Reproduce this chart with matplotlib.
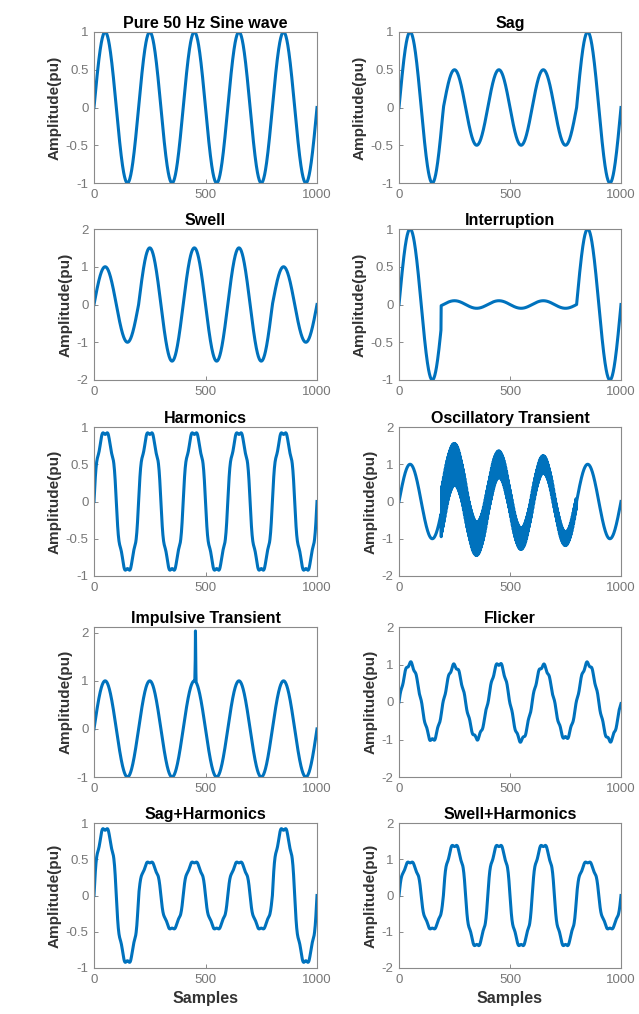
import numpy as np
import matplotlib
matplotlib.use("Agg")
import matplotlib.pyplot as plt

plt.rcParams['font.family'] = ['Liberation Sans', 'DejaVu Sans']

# ---- signal parameters ----
n_samples = 1000
cycle_len = 200                      # 5 cycles of 50 Hz in 1000 samples

titles = ["Pure 50 Hz Sine wave", "Sag", "Swell", "Interruption", "Harmonics",
          "Oscillatory Transient", "Impulsive Transient", "Flicker",
          "Sag+Harmonics", "Swell+Harmonics"]
y_limits = [(-1, 1), (-1, 1), (-2, 2), (-1, 1), (-1, 1),
            (-2, 2), (-1, 2.12), (-2, 2), (-1, 1), (-2, 2)]
y_ticks = [[-1, -0.5, 0, 0.5, 1], [-1, -0.5, 0, 0.5, 1], [-2, -1, 0, 1, 2],
           [-1, -0.5, 0, 0.5, 1], [-1, -0.5, 0, 0.5, 1], [-2, -1, 0, 1, 2],
           [-1, 0, 1, 2], [-2, -1, 0, 1, 2], [-1, -0.5, 0, 0.5, 1], [-2, -1, 0, 1, 2]]
x_ticks = [0, 500, 1000]

# disturbance windows (start, end sample) and levels
sag_window = (200, 800)
sag_level = 0.5
swell_window = (200, 800)
swell_level = 1.5
interrupt_window = (190, 800)
interrupt_level = 0.05

harmonic_orders = [1, 3, 5, 7]
harmonic_amps = [1.0, 0.10, 0.05, 0.05]

osc_window = (190, 800)
osc_amp = 0.9
osc_decay = 450        # samples
osc_period = 4         # samples

impulse_pos = [453, 454, 455, 456, 457]
impulse_add = [0.25, 0.45, 1.05, 0.5, 0.2]

flicker_ripple = 0.05
flicker_ripple_period = 24
flicker_mod = 0.04
flicker_mod_period = 400

# ---- build the waveforms ----
n = np.arange(n_samples + 1)
w = 2 * np.pi * n / cycle_len
sine = np.sin(w)
harm = sum(a * np.sin(k * w) for k, a in zip(harmonic_orders, harmonic_amps))


def window_env(win, level):
    env = np.ones_like(w)
    env[(n >= win[0]) & (n < win[1])] = level
    return env


sag = window_env(sag_window, sag_level) * sine
swell = window_env(swell_window, swell_level) * sine
interruption = window_env(interrupt_window, interrupt_level) * sine

osc_mask = (n >= osc_window[0]) & (n < osc_window[1])
osc = sine.copy()
osc[osc_mask] += (osc_amp * np.exp(-(n[osc_mask] - osc_window[0]) / osc_decay)
                  * np.sin(2 * np.pi * (n[osc_mask] + 0.5) / osc_period))

impulsive = sine.copy()
impulsive[impulse_pos] += impulse_add

flicker = ((1 + flicker_mod * np.sin(2 * np.pi * n / flicker_mod_period)) * sine
           + flicker_ripple * np.sin(2 * np.pi * n / flicker_ripple_period))

sag_harm = window_env(sag_window, sag_level) * harm
swell_harm = window_env(swell_window, swell_level) * harm

signals = [sine, sag, swell, interruption, harm, osc, impulsive, flicker,
           sag_harm, swell_harm]

# ---- layout (pixel boxes of the axes) ----
W, H = 639, 1014
col_x = [(94, 317), (399, 621)]
row_y = [(32, 183), (229, 380), (427, 576), (627, 777), (823, 968)]

fig = plt.figure(figsize=(W / 100, H / 100), dpi=100)
line_color = '#0072BD'
grey = '#777777'

for i, (sig, title) in enumerate(zip(signals, titles)):
    r, c = divmod(i, 2)
    x0, x1 = col_x[c]
    y0, y1 = row_y[r]
    ax = fig.add_axes([x0 / W, 1 - y1 / H, (x1 - x0) / W, (y1 - y0) / H])
    ax.plot(n, sig, color=line_color, linewidth=2.2)
    ax.set_xlim(0, n_samples)
    ax.set_ylim(*y_limits[i])
    ax.set_yticks(y_ticks[i])
    ax.set_yticklabels([f"{t:g}" for t in y_ticks[i]])
    ax.set_xticks(x_ticks)
    ax.tick_params(direction='in', length=3, width=0.6, colors=grey,
                   labelsize=9.5, pad=4)
    for s in ax.spines.values():
        s.set_color('#8a8a8a')
        s.set_linewidth(0.8)
    ax.set_title(title, fontsize=11.5, fontweight='bold', pad=3)
    ax.set_ylabel("Amplitude(pu)", fontsize=11, fontweight='bold', color='#333333',
                  labelpad=3)
    if r == 4:
        ax.set_xlabel("Samples", fontsize=11.5, fontweight='bold', color='#333333',
                      labelpad=4)

fig.savefig("out.png", dpi=100)
